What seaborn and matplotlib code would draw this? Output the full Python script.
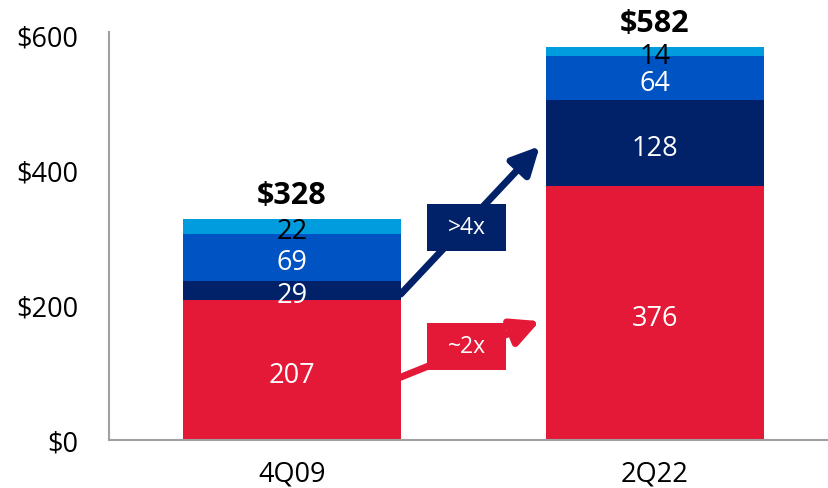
import pandas as pd
import matplotlib.pyplot as plt
from matplotlib.patches import Rectangle
import seaborn as sns

# Data
periods = ["4Q09", "2Q22"]
seg_red = [207, 376]
seg_navy = [29, 128]
seg_blue = [69, 64]
seg_light = [22, 14]
totals = [328, 582]

segments = [
    ("red", seg_red, "#E31937", "white"),
    ("navy", seg_navy, "#012169", "white"),
    ("blue", seg_blue, "#0053C2", "white"),
    ("light", seg_light, "#009CDE", "black"),
]

sns.set_theme()
sns.set_style("white")
plt.rcParams['font.family'] = ['Open Sans', 'DejaVu Sans']

fig = plt.figure(figsize=(8.29, 4.89), dpi=100)
ax = fig.add_axes([109 / 829, 48 / 489, 720 / 829, 408 / 489])

bottom = [0, 0]
for name, vals, color, tcol in segments:
    df = pd.DataFrame({"period": periods, "value": vals})
    sns.barplot(data=df, x="period", y="value", color=color, width=0.6,
                bottom=bottom, saturation=1, ax=ax, errorbar=None, linewidth=0)
    # segment labels
    for i, v in enumerate(vals):
        ax.annotate(str(v), (i, bottom[i] + v / 2), xytext=(0, -3.5),
                    textcoords="offset points", ha="center", va="center",
                    color=tcol, fontsize=19.5)
    bottom = [b + v for b, v in zip(bottom, vals)]

# totals
for i, t in enumerate(totals):
    ax.annotate(f"${t}", (i, t), xytext=(0, 17), textcoords="offset points",
                ha="center", va="center", fontsize=22, fontweight="bold",
                color="black")

# growth arrows
ax.annotate("", xy=(0.683, 435), xytext=(0.30, 216),
            arrowprops=dict(arrowstyle="-|>,head_length=1.4,head_width=0.7",
                            color="#012169", lw=5, shrinkA=0, shrinkB=0))
ax.annotate("", xy=(0.683, 176), xytext=(0.30, 93),
            arrowprops=dict(arrowstyle="-|>,head_length=1.4,head_width=0.7",
                            color="#E31937", lw=5, shrinkA=0, shrinkB=0))
ax.add_patch(Rectangle((0.372, 280), 0.218, 70, fc="#012169", ec="none", zorder=5))
ax.add_patch(Rectangle((0.372, 104), 0.218, 69, fc="#E31937", ec="none", zorder=5))
ax.text(0.481, 315, ">4x", ha="center", va="center", color="white", fontsize=16.5, zorder=6)
ax.text(0.481, 138.5, "~2x", ha="center", va="center", color="white", fontsize=16.5, zorder=6)

ax.set_xlim(-0.504, 1.48)
ax.set_ylim(0, 604)
ax.set_yticks([0, 200, 400, 600])
ax.set_yticklabels(["$0", "$200", "$400", "$600"])
ax.set_xlabel("")
ax.set_ylabel("")
ax.tick_params(axis="both", length=0, labelsize=19.5, colors="black")
ax.tick_params(axis="y", pad=22)
ax.tick_params(axis="x", pad=14)
for s in ["top", "right"]:
    ax.spines[s].set_visible(False)
for s in ["left", "bottom"]:
    ax.spines[s].set_color("#A0A0A0")
    ax.spines[s].set_linewidth(1.5)

fig.savefig("out.png", dpi=100)
